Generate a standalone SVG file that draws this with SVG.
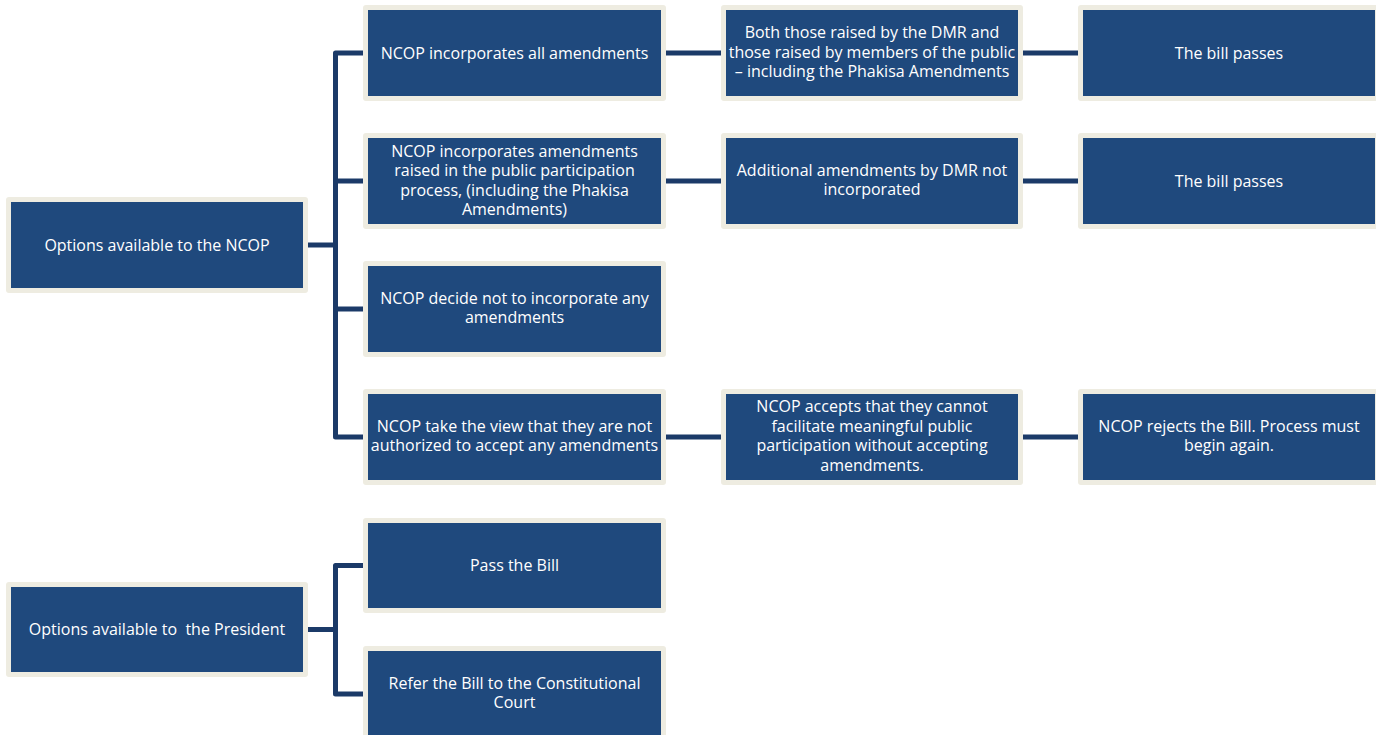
<svg xmlns="http://www.w3.org/2000/svg" width="1376" height="735" viewBox="0 0 1376 735">
<style>
.frame{fill:#EEECE1}
.box{fill:#1F497D}
.t{font-family:"Open Sans","Liberation Sans",sans-serif;font-size:16px;fill:#FFFFFF;text-anchor:middle;white-space:pre}
.c{fill:none;stroke:#1B3A68;stroke-width:5;stroke-linejoin:round;stroke-linecap:butt}
</style>
<rect width="1376" height="735" fill="#FFFFFF"/>
<g id="connectors">
<path class="c" d="M308,245 H335.5"/>
<path class="c" d="M363,53 H335.5 V437 H363"/>
<path class="c" d="M335.5,181 H363"/>
<path class="c" d="M335.5,309 H363"/>
<path class="c" d="M666,53 H721"/>
<path class="c" d="M666,181 H721"/>
<path class="c" d="M666,437 H721"/>
<path class="c" d="M1023,53 H1078"/>
<path class="c" d="M1023,181 H1078"/>
<path class="c" d="M1023,437 H1078"/>
<path class="c" d="M308,629.5 H335.5"/>
<path class="c" d="M363,565.5 H335.5 V694 H363"/>
</g>
<g id="n-ncop">
<rect class="frame" x="6" y="197" width="302" height="96" rx="3"/>
<rect class="box" x="11" y="202" width="292" height="86"/>
<text class="t" x="157" y="250.5">Options available to the NCOP</text>
</g>
<g id="n-all">
<rect class="frame" x="363" y="5" width="303" height="96" rx="3"/>
<rect class="box" x="368" y="10" width="293" height="86"/>
<text class="t" x="514.5" y="58.5">NCOP incorporates all amendments</text>
</g>
<g id="n-public">
<rect class="frame" x="363" y="133" width="303" height="96" rx="3"/>
<rect class="box" x="368" y="138" width="293" height="86"/>
<text class="t" x="514.5" y="156.5">NCOP incorporates amendments</text>
<text class="t" x="514.5" y="176">raised in the public participation</text>
<text class="t" x="514.5" y="195.5">process, (including the Phakisa</text>
<text class="t" x="514.5" y="215">Amendments)</text>
</g>
<g id="n-none">
<rect class="frame" x="363" y="261" width="303" height="96" rx="3"/>
<rect class="box" x="368" y="266" width="293" height="86"/>
<text class="t" x="514.5" y="303.75">NCOP decide not to incorporate any</text>
<text class="t" x="514.5" y="323.25">amendments</text>
</g>
<g id="n-notauth">
<rect class="frame" x="363" y="389" width="303" height="96" rx="3"/>
<rect class="box" x="368" y="394" width="293" height="86"/>
<text class="t" x="514.5" y="431.75">NCOP take the view that they are not</text>
<text class="t" x="514.5" y="451.25">authorized to accept any amendments</text>
</g>
<g id="n-both">
<rect class="frame" x="721" y="5" width="302" height="96" rx="3"/>
<rect class="box" x="726" y="10" width="292" height="86"/>
<text class="t" x="872" y="38">Both those raised by the DMR and</text>
<text class="t" x="872" y="57.5">those raised by members of the public</text>
<text class="t" x="872" y="77">– including the Phakisa Amendments</text>
</g>
<g id="n-additional">
<rect class="frame" x="721" y="133" width="302" height="96" rx="3"/>
<rect class="box" x="726" y="138" width="292" height="86"/>
<text class="t" x="872" y="175.75">Additional amendments by DMR not</text>
<text class="t" x="872" y="195.25">incorporated</text>
</g>
<g id="n-accepts">
<rect class="frame" x="721" y="389" width="302" height="96" rx="3"/>
<rect class="box" x="726" y="394" width="292" height="86"/>
<text class="t" x="872" y="412.25">NCOP accepts that they cannot</text>
<text class="t" x="872" y="431.75">facilitate meaningful public</text>
<text class="t" x="872" y="451.25">participation without accepting</text>
<text class="t" x="872" y="470.75">amendments.</text>
</g>
<g id="n-passes1">
<rect class="frame" x="1078" y="5" width="302" height="96" rx="3"/>
<rect class="box" x="1083" y="10" width="292" height="86"/>
<text class="t" x="1229" y="58.5">The bill passes</text>
</g>
<g id="n-passes2">
<rect class="frame" x="1078" y="133" width="302" height="96" rx="3"/>
<rect class="box" x="1083" y="138" width="292" height="86"/>
<text class="t" x="1229" y="186.5">The bill passes</text>
</g>
<g id="n-rejects">
<rect class="frame" x="1078" y="389" width="302" height="96" rx="3"/>
<rect class="box" x="1083" y="394" width="292" height="86"/>
<text class="t" x="1229" y="431.75">NCOP rejects the Bill. Process must</text>
<text class="t" x="1229" y="451.25">begin again.</text>
</g>
<g id="n-president">
<rect class="frame" x="6" y="582" width="302" height="95" rx="3"/>
<rect class="box" x="11" y="587" width="292" height="85"/>
<text class="t" x="157" y="635">Options available to  the President</text>
</g>
<g id="n-pass">
<rect class="frame" x="363" y="518" width="303" height="95" rx="3"/>
<rect class="box" x="368" y="523" width="293" height="85"/>
<text class="t" x="514.5" y="571">Pass the Bill</text>
</g>
<g id="n-refer">
<rect class="frame" x="363" y="646" width="303" height="96" rx="3"/>
<rect class="box" x="368" y="651" width="293" height="86"/>
<text class="t" x="514.5" y="688.75">Refer the Bill to the Constitutional</text>
<text class="t" x="514.5" y="708.25">Court</text>
</g>
</svg>
